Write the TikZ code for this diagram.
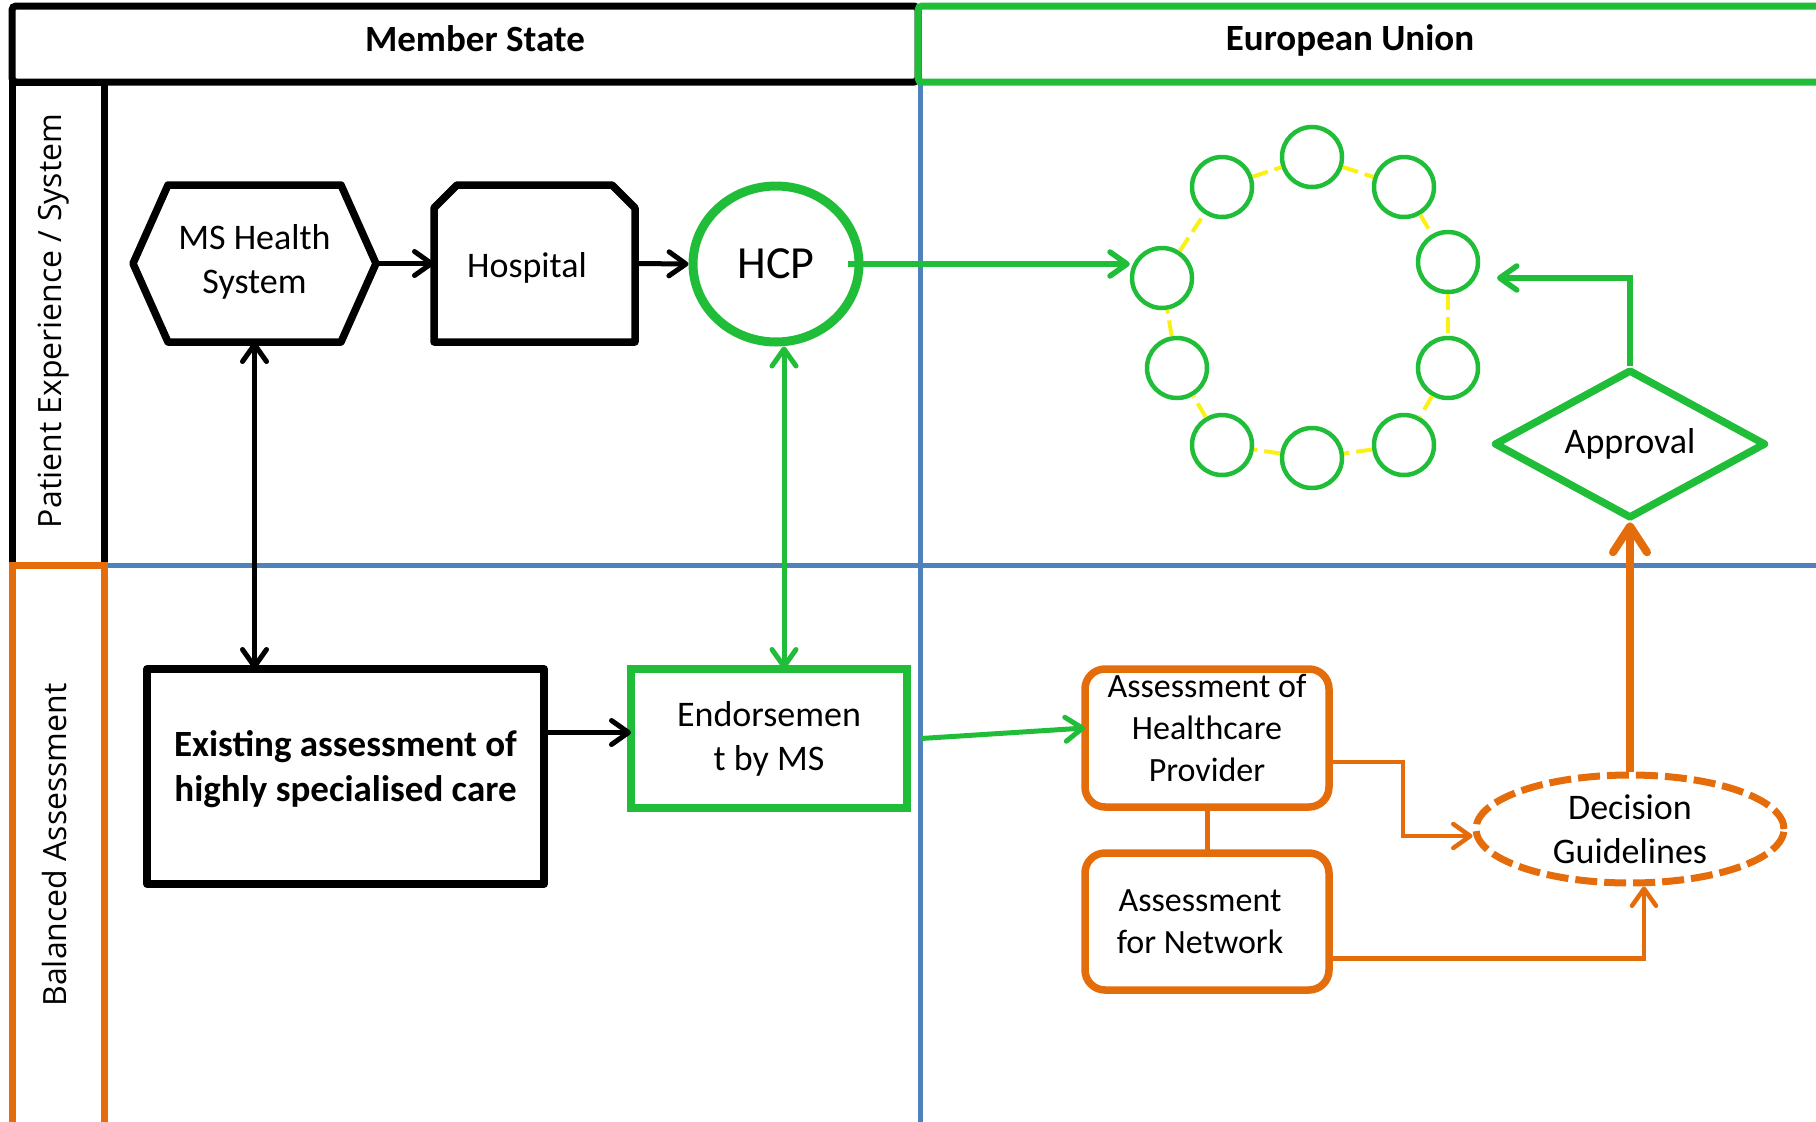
\documentclass[tikz,border=0pt]{standalone}
\usepackage{fontspec}
\setmainfont{Carlito}
\newfontfamily\lanefont{Open Sans}
\usetikzlibrary{arrows.meta,shapes.geometric}
\definecolor{mygreen}{RGB}{32,190,56}
\definecolor{myorange}{RGB}{228,108,10}
\definecolor{myblue}{RGB}{79,129,189}
\definecolor{myyellow}{RGB}{250,240,20}
\begin{document}
\begin{tikzpicture}[x=1pt,y=-1pt,
  txt/.style={font=\fontsize{36}{44}\selectfont, align=center, text=black},
  hdr/.style={font=\bfseries\fontsize{37}{44}\selectfont},
  lane/.style={font=\lanefont\fontsize{32}{38}\selectfont, rotate=90},
  frame/.style={line width=7pt},
  box/.style={txt, rectangle, minimum width=#1, outer sep=0pt, inner sep=2pt},
  bline/.style={draw=black, line width=7.5pt, line join=round},
  gline/.style={draw=mygreen, line width=7.5pt},
  oline/.style={draw=myorange, line width=7.5pt},
  barb/.style={-{Straight Barb[round,length=17pt,width=24pt]}},
  dbarb/.style={{Straight Barb[round,length=17pt,width=24pt]}-{Straight Barb[round,length=17pt,width=24pt]}},
  conn/.style={line width=5pt},
  ring/.style={circle, draw=mygreen, fill=white, line width=4.5pt, minimum size=60pt, inner sep=0pt},
  ringlink/.style={draw=myyellow, line width=4pt, dash pattern=on 16pt off 7pt}
]
\useasboundingbox (0,0) rectangle (1816,1122);
\clip (0,0) rectangle (1816,1122);

% lane dividers
\draw[myblue, line width=5pt] (104,565) -- (1816,565);
\draw[myblue, line width=5pt] (920,83) -- (920,1122);

% frames
\draw[frame, black, rounded corners=4pt] (12,6) rectangle (918,82);
\draw[frame, black] (12,82) rectangle (104,565);
\draw[frame, myorange] (12,565) rectangle (104,1135);
\draw[frame, mygreen, rounded corners=4pt] (918,6) rectangle (1835,82);

% headers and lane labels
\node[hdr] (hms) at (475,39) {Member State};
\node[hdr] (heu) at (1350,40) {European Union};
\node[lane] (lpe) at (54,321) {Patient Experience / System};
\node[lane] (lba) at (54,845) {Balanced Assessment};

% MS Health System (hexagon)
\node[box=243pt, minimum height=157pt, text depth=9pt] (ms) at (254.5,263.5) {MS Health\\System};
\draw[bline] (ms.west) -- ([xshift=35pt]ms.north west) -- ([xshift=-35pt]ms.north east)
  -- (ms.east) -- ([xshift=-35pt]ms.south east) -- ([xshift=35pt]ms.south west) -- cycle;

% Hospital (chamfered top corners)
\node[box=201pt, minimum height=157pt] (hosp) at (534.5,263.5) {};
\node[txt] (hosptxt) at (527,268) {Hospital};
\draw[bline] (hosp.south west) -- ([yshift=-23pt]hosp.north west) -- ([xshift=23pt]hosp.north west)
  -- ([xshift=-23pt]hosp.north east) -- ([yshift=-23pt]hosp.north east) -- (hosp.south east) -- cycle;

% HCP
\node[txt, ellipse, draw=mygreen, line width=9pt, minimum width=166pt, minimum height=156pt,
  font=\fontsize{46}{50}\selectfont] (hcp) at (776,264) {HCP};

% Existing assessment
\node[box=397pt, minimum height=215pt, bline, font=\bfseries\fontsize{37}{45}\selectfont, text depth=22pt]
  (exist) at (345.5,776.5) {Existing assessment of\\highly specialised care};

% Endorsement
\node[box=276pt, minimum height=139pt, gline] (endo) at (769,738.5) {Endorsemen\\t by MS};

% Assessment boxes
\node[box=244pt, minimum height=138pt, oline, rounded corners=20pt, text depth=20pt,
  font=\fontsize{34}{42}\selectfont] (ahp) at (1207,738) {Assessment of\\Healthcare\\Provider};
\node[box=244pt, minimum height=137pt, oline, rounded corners=20pt,
  font=\fontsize{34}{42}\selectfont] (afn) at (1207,921.5) {Assessment\hspace*{14pt}\\for Network\hspace*{14pt}};

% Decision Guidelines
\node[txt, ellipse, draw=myorange, line width=7pt, dash pattern=on 22pt off 7pt,
  minimum width=308pt, minimum height=108pt, inner sep=0pt] (dg) at (1630,829) {Decision\\Guidelines};

% Approval
\node[txt, diamond, draw=mygreen, line width=7.5pt, line join=round, aspect=1.83,
  minimum width=272pt, minimum height=149pt, inner sep=0pt] (appr) at (1630,444) {Approval};

% ring of circles
\node[ring] (r1) at (1312,157) {};
\node[ring] (r2) at (1404,187) {};
\node[ring] (r3) at (1448,262) {};
\node[ring] (r4) at (1448,368) {};
\node[ring] (r5) at (1404,445) {};
\node[ring] (r6) at (1312,458) {};
\node[ring] (r7) at (1222,445) {};
\node[ring] (r8) at (1177,368) {};
\node[ring] (r9) at (1162,278) {};
\node[ring] (r10) at (1222,187) {};
\foreach \a/\b in {r1/r2,r2/r3,r3/r4,r4/r5,r5/r6,r6/r7,r7/r8,r8/r9,r9/r10,r10/r1}
  \draw[ringlink] (\a) -- (\b);
\coordinate (ringin) at (1497,278);

% connectors
\draw[conn, barb, black] (ms.east) -- (hosp.west);
\draw[conn, barb, black] (hosp.east) -- (hcp.west);
\draw[conn, dbarb, black] (ms.south) -- (ms.south |- exist.north);
\draw[conn, dbarb, mygreen] ([xshift=8pt]hcp.south) -- ([xshift=8pt]hcp.south |- endo.north);
\draw[conn, barb, mygreen, line width=5.5pt] ([xshift=-16pt]hcp.east) -- (hcp.east -| r9.west);
\draw[conn, barb, black] ([yshift=6pt]exist.east |- endo.west) -- ([yshift=6pt]endo.west);
\draw[conn, barb, mygreen] ([xshift=14pt]endo.east) -- ([yshift=10pt]ahp.west);
\draw[conn, barb, mygreen, line width=5.5pt] (appr.north) |- (ringin);
\draw[line width=5pt, myorange] (ahp.south) -- (afn.north);
\draw[line width=4.5pt, myorange, barb] ([yshift=-24pt]ahp.east) -- ++(74,0) |- ([yshift=-7pt]dg.west);
\draw[line width=4.5pt, myorange, barb] ([yshift=-37pt]afn.east) -| ([xshift=14pt]dg.south);
\draw[line width=8pt, myorange, -{Straight Barb[round,length=26pt,width=34pt]}] (dg.north) -- (appr.south);
\end{tikzpicture}
\end{document}
